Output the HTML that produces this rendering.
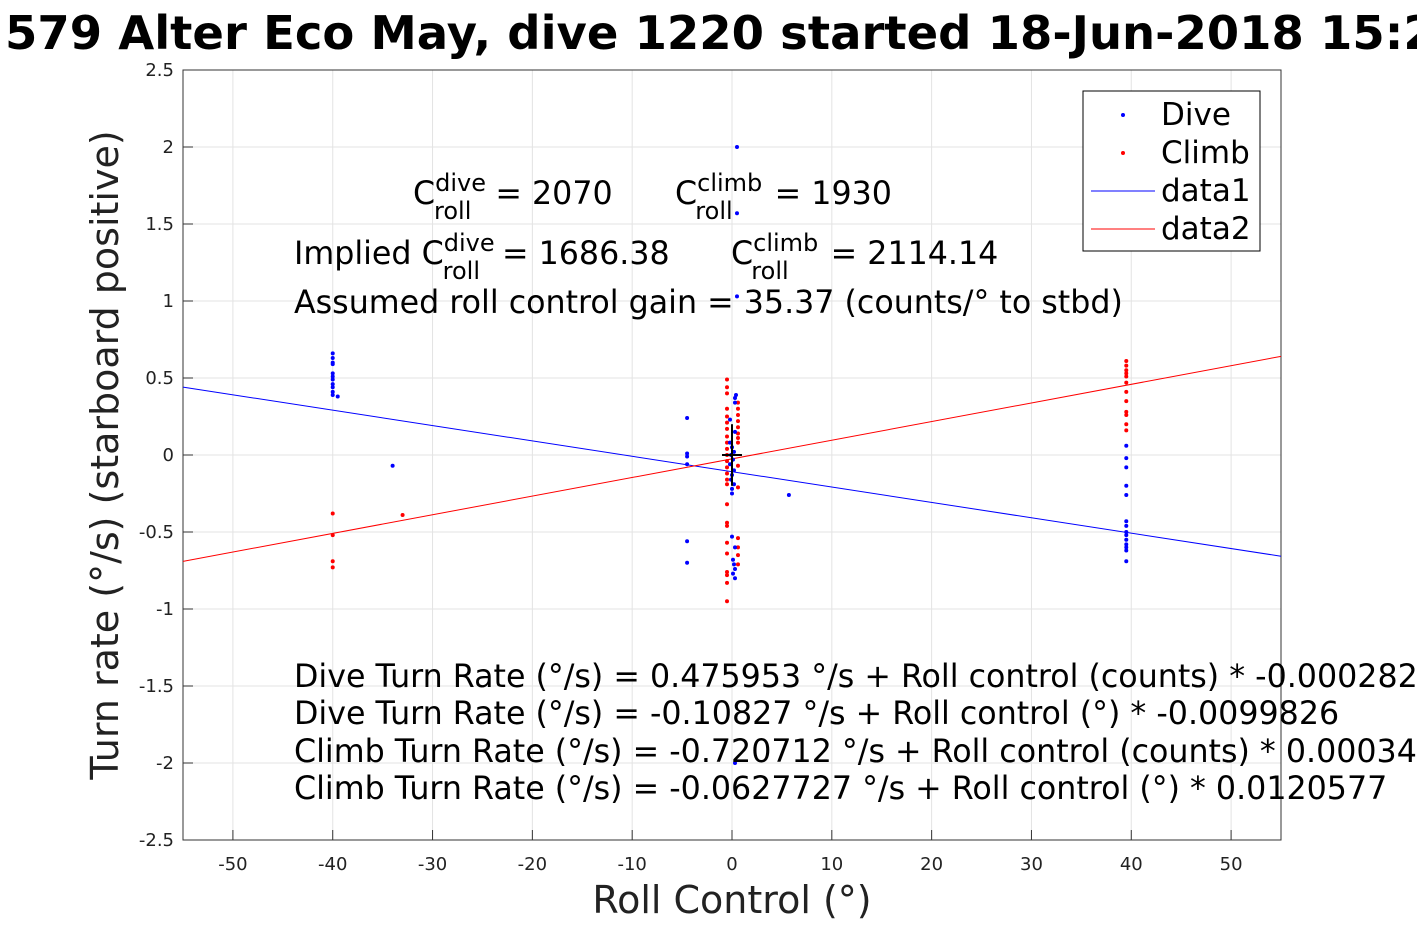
<!DOCTYPE html>
<html><head><meta charset="utf-8"><style>
body{margin:0;background:#fff;width:1417px;height:945px;overflow:hidden;font-family:"DejaVu Sans","Liberation Sans",sans-serif;}
svg text{font-family:"DejaVu Sans","Liberation Sans",sans-serif;}
</style></head><body>
<svg id="chart" width="1417" height="945">
<g font-size="46.5" font-weight="bold">
<text x="1" y="49" text-anchor="end">SG</text>
<text x="5" y="49">579 Alter Eco May, dive 1220 started 18-Jun-2018 15:24:10</text>
</g>
<g id="grid"></g><g id="axes"></g><g id="marks"></g>
<g font-size="31.7" fill="#000">
<text x="413" y="204">C<tspan font-size="24" dy="-13">dive</tspan><tspan font-size="24" dx="-52" dy="28">roll</tspan><tspan dy="-15" dx="24">= 2070</tspan></text>
<text x="675" y="204">C<tspan font-size="24" dy="-13">climb</tspan><tspan font-size="24" dx="-67" dy="28">roll</tspan><tspan dy="-15" dx="42">= 1930</tspan></text>
<text x="294" y="264">Implied C<tspan font-size="24" dy="-13">dive</tspan><tspan font-size="24" dx="-52" dy="28">roll</tspan><tspan dy="-15" dx="22">= 1686.38</tspan></text>
<text x="731" y="264">C<tspan font-size="24" dy="-13">climb</tspan><tspan font-size="24" dx="-67" dy="28">roll</tspan><tspan dy="-15" dx="42">= 2114.14</tspan></text>
<text x="294" y="313">Assumed roll control gain = 35.37 (counts/° to stbd)</text>
<text x="294" y="687">Dive Turn Rate (°/s) = 0.475953 °/s + Roll control (counts) * -0.000282</text>
<text x="294" y="724">Dive Turn Rate (°/s) = -0.10827 °/s + Roll control (°) * -0.0099826</text>
<text x="294" y="762">Climb Turn Rate (°/s) = -0.720712 °/s + Roll control (counts) * 0.000340</text>
<text x="294" y="799">Climb Turn Rate (°/s) = -0.0627727 °/s + Roll control (°) * 0.0120577</text>
</g>
<g>
<rect x="1083" y="91" width="177" height="160" fill="#fff" stroke="#000" stroke-width="1"/>
<circle cx="1123" cy="115" r="2" fill="#00f"/><text x="1161" y="125" font-size="31">Dive</text>
<circle cx="1123" cy="153" r="2" fill="#f00"/><text x="1161" y="163" font-size="31">Climb</text>
<line x1="1091" y1="191" x2="1155" y2="191" stroke="#00f"/><text x="1161" y="201" font-size="31">data1</text>
<line x1="1091" y1="229" x2="1155" y2="229" stroke="#f00"/><text x="1161" y="239" font-size="31">data2</text>
</g>
<text x="732" y="913" font-size="38" text-anchor="middle" fill="#222">Roll Control (°)</text>
<text transform="translate(118,455) rotate(-90)" font-size="38" text-anchor="middle" fill="#222">Turn rate (°/s) (starboard positive)</text>
</svg>
<script>
const xTicks=[-50,-40,-30,-20,-10,0,10,20,30,40,50];
const yTicks=[-2.5,-2,-1.5,-1,-0.5,0,0.5,1,1.5,2,2.5];
const fitIntercepts=[-0.10827,-0.025];
const fitSlopes=[-0.0099826,0.0121];
const diveX=[-40,-40,-40,-40,-40,-40,-40,-40,-40,-40,-40,-39.5,-34,-4.5,-4.5,-4.5,-4.5,-4.5,-4.5,0.5,0.5,0.5,0.4,0.3,0.3,-0.2,0.3,-0.2,0,0.2,-0.1,0.1,-0.2,0.2,0,-0.1,0.2,0,0,0,0.3,0.1,0.2,0.3,0.1,0.3,5.7,39.5,39.5,39.5,39.5,39.5,39.5,39.5,39.5,39.5,39.5,39.5,39.5,39.5,39.5,0.3];
const diveY=[0.66,0.63,0.6,0.59,0.53,0.51,0.49,0.46,0.44,0.41,0.39,0.38,-0.07,0.24,0.01,-0.01,-0.06,-0.56,-0.7,2.0,1.57,1.03,0.39,0.37,0.34,0.23,0.15,0.08,0.05,0.02,0,-0.03,-0.06,-0.1,-0.13,-0.16,-0.19,-0.22,-0.25,-0.53,-0.6,-0.68,-0.71,-0.74,-0.77,-0.8,-0.26,0.06,-0.02,-0.08,-0.2,-0.26,-0.43,-0.46,-0.5,-0.52,-0.55,-0.58,-0.6,-0.62,-0.69,-2.0];
const climbX=[-40,-40,-40,-40,-33,-0.5,-0.5,-0.5,-0.5,-0.5,-0.5,-0.5,-0.5,-0.5,-0.5,-0.5,-0.5,-0.5,-0.5,-0.5,-0.5,-0.5,-0.5,-0.5,-0.5,-0.5,-0.5,-0.5,-0.5,-0.5,0.6,0.6,0.6,0.6,0.6,0.6,0.6,0.6,0.6,0.6,0.6,0.6,0.6,0.6,39.5,39.5,39.5,39.5,39.5,39.5,39.5,39.5,39.5,39.5,39.5,39.5];
const climbY=[-0.38,-0.52,-0.69,-0.73,-0.39,0.49,0.44,0.4,0.25,0.21,0.17,0.12,0.08,0.04,0,-0.04,-0.08,-0.12,-0.16,-0.19,-0.32,-0.44,-0.46,-0.57,-0.64,-0.76,-0.78,-0.83,-0.95,0.3,0.34,0.3,0.26,0.22,0.18,0.14,0.11,0.08,-0.07,-0.21,-0.54,-0.6,-0.65,-0.71,0.61,0.58,0.55,0.53,0.51,0.47,0.41,0.35,0.28,0.26,0.2,0.16];
const X0=183,X1=1281,Y0=70,Y1=840,xmin=-55,xmax=55,ymin=-2.5,ymax=2.5;
const sx=v=>X0+(v-xmin)/(xmax-xmin)*(X1-X0);
const sy=v=>Y1-(v-ymin)/(ymax-ymin)*(Y1-Y0);
const NS="http://www.w3.org/2000/svg";
function mk(t,a,p){const e=document.createElementNS(NS,t);for(const k in a)e.setAttribute(k,a[k]);p.appendChild(e);return e;}
const grid=document.getElementById('grid'),axes=document.getElementById('axes'),marks=document.getElementById('marks');
xTicks.forEach(t=>{const l=mk('line',{x1:sx(t),x2:sx(t),y1:Y0,y2:Y1,stroke:'#e3e3e3'},grid);


const tx=mk('text',{x:sx(t),y:Y1+30,'font-size':18,'text-anchor':'middle',fill:'#222'},axes);tx.textContent=t;


mk('line',{x1:sx(t),x2:sx(t),y1:Y1,y2:Y1-10,stroke:'#333'},axes);});
yTicks.forEach(t=>{const l=mk('line',{x1:X0,x2:X1,y1:sy(t),y2:sy(t),stroke:'#e3e3e3'},grid);


const tx=mk('text',{x:X0-9,y:sy(t)+6,'font-size':18,'text-anchor':'end',fill:'#222'},axes);tx.textContent=t;


mk('line',{x1:X0,x2:X0+10,y1:sy(t),y2:sy(t),stroke:'#333'},axes);});
const box=mk('rect',{x:X0,y:Y0,width:X1-X0,height:Y1-Y0,fill:'none',stroke:'#333'},axes);


const cols=['#00f','#f00'];
fitIntercepts.forEach((b,i)=>{const l=mk('line',{x1:sx(xmin),y1:sy(b+fitSlopes[i]*xmin),x2:sx(xmax),y2:sy(b+fitSlopes[i]*xmax),stroke:cols[i],'stroke-width':1},marks);

});
climbX.forEach((x,i)=>{const c=mk('circle',{cx:sx(x),cy:sy(climbY[i]),r:2,fill:'#f00'},marks);

});
diveX.forEach((x,i)=>{const c=mk('circle',{cx:sx(x),cy:sy(diveY[i]),r:2,fill:'#00f'},marks);

});
mk('line',{x1:sx(-1),x2:sx(1),y1:sy(0),y2:sy(0),stroke:'#000','stroke-width':2},marks);
mk('line',{x1:sx(0),x2:sx(0),y1:sy(0.2),y2:sy(-0.2),stroke:'#000','stroke-width':2},marks);
</script>
</body></html>
